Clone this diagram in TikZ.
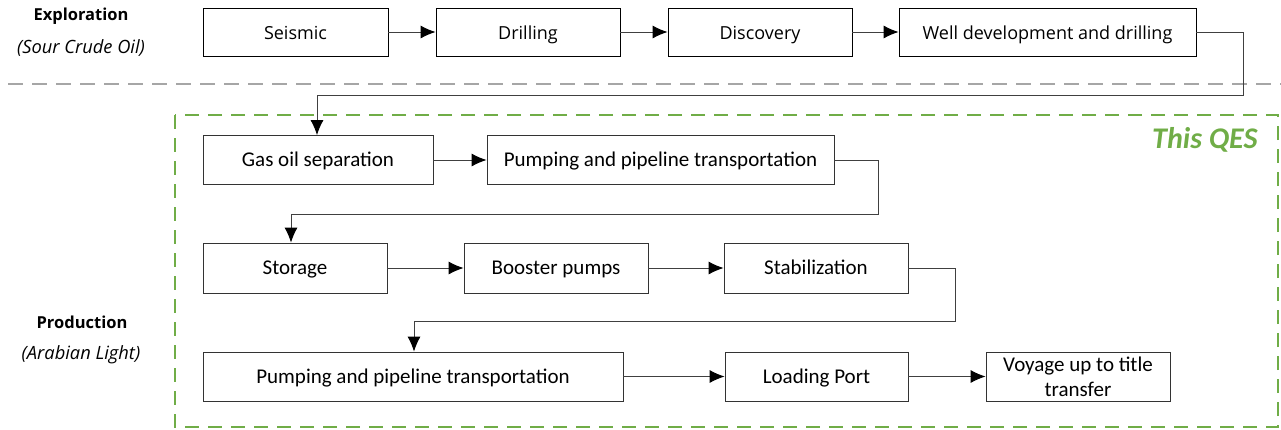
\documentclass[tikz,border=0pt]{standalone}
\usepackage{fontspec}
\setmainfont{Carlito}
\newfontfamily\topfont{Open Sans}
\usetikzlibrary{arrows.meta}
\definecolor{qesgreen}{HTML}{70AD47}
\definecolor{sepgray}{HTML}{A6A6A6}
\definecolor{linegray}{HTML}{404040}
\begin{document}
\begin{tikzpicture}[x=1pt,y=-1pt,
  topbox/.style={draw=black,line width=0.8pt,minimum height=48pt,inner sep=0pt,align=center,text height=17.8pt,text depth=3pt,font=\topfont\fontsize{18}{21}\selectfont},
  lowbox/.style={draw=black!80,line width=0.8pt,minimum height=49pt,inner sep=0pt,align=center,text height=16pt,text depth=3pt,font=\fontsize{21}{25}\selectfont},
  flow/.style={draw=linegray,line width=0.9pt,-{Latex[length=15pt,width=13pt,fill=black,color=black]}},
  boldlabel/.style={font=\topfont\bfseries\fontsize{16.5}{19}\selectfont},
  itlabel/.style={font=\topfont\itshape\fontsize{18.3}{21}\selectfont}]
\useasboundingbox (0,0) rectangle (1281,429);
% separators
\draw[sepgray,line width=1.5pt,dash pattern=on 15pt off 9pt] (8,84) -- (1281,84);
\draw[qesgreen,line width=2.4pt,dash pattern=on 14pt off 9pt] (175,115) rectangle (1278,427);
\node[anchor=east,text=qesgreen,font=\fontsize{30}{34}\selectfont\bfseries\itshape] (qes) at (1261,140) {This QES};
% side labels
\node[boldlabel] (expl) at (81,16) {Exploration};
\node[itlabel] (sour) at (81,48) {(Sour Crude Oil)};
\node[boldlabel] (prod) at (82,322) {Production};
\node[itlabel] (arab) at (81,355) {(Arabian Light)};
% top row
\node[topbox,minimum width=185pt] (seis) at (295.5,32) {Seismic};
\node[topbox,minimum width=184pt] (dril) at (528,32) {Drilling};
\node[topbox,minimum width=184pt] (disc) at (760,32) {Discovery};
\node[topbox,minimum width=297pt] (well) at (1047.5,32) {Well development and drilling};
% production
\node[lowbox,minimum width=230pt] (gos) at (318,160) {Gas oil separation};
\node[lowbox,minimum width=347pt] (pump1) at (660.5,160) {Pumping and pipeline transportation};
\node[lowbox,minimum width=184pt,minimum height=50pt] (stor) at (295,268) {Storage};
\node[lowbox,minimum width=184pt,minimum height=50pt] (boost) at (556,268) {Booster pumps};
\node[lowbox,minimum width=184pt,minimum height=50pt] (stab) at (816,268) {Stabilization};
\node[lowbox,minimum width=420pt] (pump2) at (413,376.5) {Pumping and pipeline transportation};
\node[lowbox,minimum width=183pt] (load) at (816.5,376.5) {Loading Port};
\node[draw=black!80,line width=0.8pt,minimum height=49pt,inner sep=0pt,align=center,minimum width=184pt,font=\fontsize{21}{25}\selectfont] (voy) at (1078,376.5) {Voyage up to title\\transfer};
% connectors
\draw[flow] (seis) -- (dril);
\draw[flow] (dril) -- (disc);
\draw[flow] (disc) -- (well);
\coordinate (w1) at (1243,32);
\coordinate (w2) at (1243,95);
\coordinate (w3) at (317,95);
\draw[flow] (well.east) -- (w1) -- (w2) -- (w3) -- (gos.north -| w3);
\draw[flow] (gos) -- (pump1);
\coordinate (p1) at (878,160);
\coordinate (p2) at (878,214);
\coordinate (p3) at (291,214);
\draw[flow] (pump1.east) -- (p1) -- (p2) -- (p3) -- (stor.north -| p3);
\draw[flow] (stor) -- (boost);
\draw[flow] (boost) -- (stab);
\coordinate (s1) at (955,268);
\coordinate (s2) at (955,321);
\coordinate (s3) at (414,321);
\draw[flow] (stab.east) -- (s1) -- (s2) -- (s3) -- (pump2.north -| s3);
\draw[flow] (pump2) -- (load);
\draw[flow] (load) -- (voy);
\end{tikzpicture}
\end{document}
